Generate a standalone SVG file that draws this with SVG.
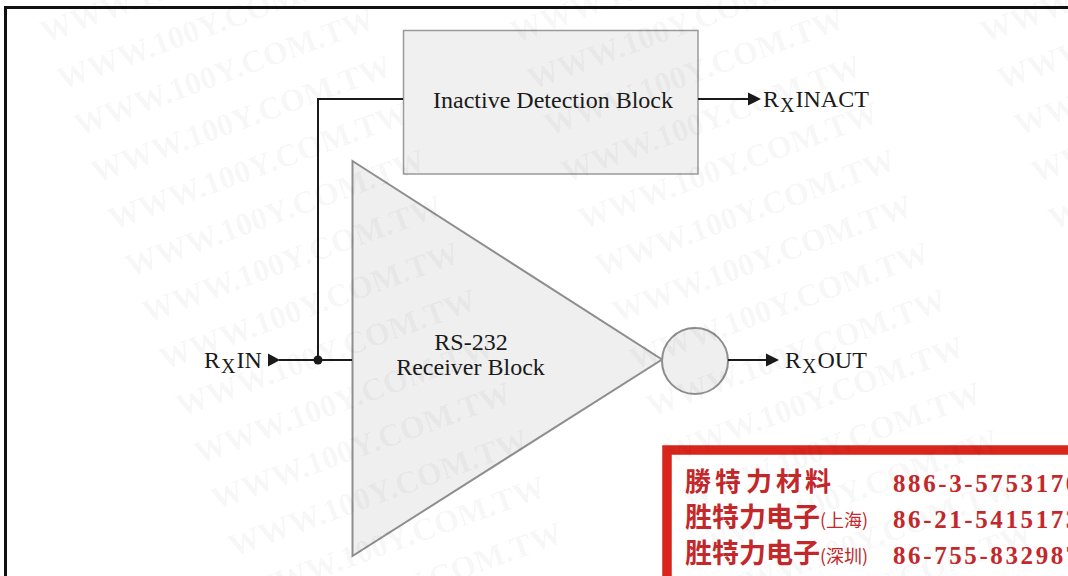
<svg xmlns="http://www.w3.org/2000/svg" width="1068" height="576" viewBox="0 0 1068 576">
<style>
.lbl{font-family:"Liberation Serif","Times New Roman",serif;font-size:24px;fill:#1a1a1a}
.sub{font-size:20px}
.wire{stroke:#1a1a1a;stroke-width:2;fill:none}
.head{fill:#1a1a1a}
.blk{fill:#efefef;stroke:#8e8e8e;stroke-width:2}
.wm{font-family:"Liberation Serif","Times New Roman",serif;font-weight:bold;font-size:32px;fill:#000;fill-opacity:0.045}
.cn{font-family:"Noto Sans CJK TC","Noto Sans CJK SC",sans-serif;font-weight:bold;fill:#c3282b}
.num{font-family:"Liberation Serif","Times New Roman",serif;font-weight:bold;font-size:25px;letter-spacing:2.6px;fill:#c3282b}
</style>
<rect x="0" y="0" width="1068" height="576" fill="#fff"/>
<rect id="frame" x="5.5" y="7.5" width="1100" height="600" fill="none" stroke="#111" stroke-width="3"/>

<g id="inactive-block">
<rect x="403.5" y="30.5" width="294.5" height="143.5" fill="#f0f0f0" stroke="#9a9a9a" stroke-width="1.5"/>
<text class="lbl" x="553" y="108" text-anchor="middle">Inactive Detection Block</text>
</g>

<g id="receiver-block">
<polygon class="blk" points="352.5,161 662,359.5 352.5,556"/>
<text class="lbl" x="471" y="350" text-anchor="middle">RS-232</text>
<text class="lbl" x="470.5" y="375" text-anchor="middle">Receiver Block</text>
</g>

<g id="output-buffer">
<circle class="blk" cx="695" cy="361" r="33"/>
</g>

<g id="connectors">
<path class="wire" d="M318,360 V99 H403"/>
<path class="wire" d="M279,360 H352"/>
<polygon class="head" points="268,353.5 280,360 268,366.5"/>
<circle class="head" cx="318" cy="360" r="4.5"/>
<path class="wire" d="M698,99 H750"/>
<polygon class="head" points="748,92.5 761,99 748,105.5"/>
<path class="wire" d="M728,360 H768"/>
<polygon class="head" points="766,353.5 779,360 766,366.5"/>
</g>

<g id="rxin-label"><text class="lbl" x="204" y="368">R<tspan class="sub" dy="5" dx="1">X</tspan><tspan dy="-5" dx="1">IN</tspan></text></g>
<g id="rxinact-label"><text class="lbl" x="763" y="107">R<tspan class="sub" dy="5" dx="1">X</tspan><tspan dy="-5" dx="1">INACT</tspan></text></g>
<g id="rxout-label"><text class="lbl" x="785" y="368">R<tspan class="sub" dy="5" dx="1">X</tspan><tspan dy="-5" dx="1">OUT</tspan></text></g>

<g id="stamp">
<rect x="667" y="450" width="500" height="200" fill="#fff" stroke="#d8261d" stroke-width="9.5"/>
<text class="cn" y="491" font-size="26"><tspan x="685">勝</tspan><tspan x="715">特</tspan><tspan x="746">力</tspan><tspan x="776">材</tspan><tspan x="805">料</tspan></text>
<text class="num" x="893" y="492">886-3-5753170</text>
<text class="cn" x="685" y="527" font-size="27">胜特力电子<tspan font-size="18" font-weight="normal">(上海)</tspan></text>
<text class="num" x="893" y="528">86-21-5415173</text>
<text class="cn" x="685" y="563" font-size="27">胜特力电子<tspan font-size="18" font-weight="normal">(深圳)</tspan></text>
<text class="num" x="893" y="564">86-755-832987</text>
</g>

<g id="watermark">
<text class="wm" transform="translate(28,-4) rotate(-20)">WWW.100Y.COM.TW</text>
<text class="wm" transform="translate(45,43) rotate(-20)">WWW.100Y.COM.TW</text>
<text class="wm" transform="translate(62,90) rotate(-20)">WWW.100Y.COM.TW</text>
<text class="wm" transform="translate(79,136) rotate(-20)">WWW.100Y.COM.TW</text>
<text class="wm" transform="translate(96,183) rotate(-20)">WWW.100Y.COM.TW</text>
<text class="wm" transform="translate(113,230) rotate(-20)">WWW.100Y.COM.TW</text>
<text class="wm" transform="translate(130,277) rotate(-20)">WWW.100Y.COM.TW</text>
<text class="wm" transform="translate(147,323) rotate(-20)">WWW.100Y.COM.TW</text>
<text class="wm" transform="translate(164,370) rotate(-20)">WWW.100Y.COM.TW</text>
<text class="wm" transform="translate(181,417) rotate(-20)">WWW.100Y.COM.TW</text>
<text class="wm" transform="translate(199,464) rotate(-20)">WWW.100Y.COM.TW</text>
<text class="wm" transform="translate(216,510) rotate(-20)">WWW.100Y.COM.TW</text>
<text class="wm" transform="translate(233,557) rotate(-20)">WWW.100Y.COM.TW</text>
<text class="wm" transform="translate(250,604) rotate(-20)">WWW.100Y.COM.TW</text>
<text class="wm" transform="translate(267,650) rotate(-20)">WWW.100Y.COM.TW</text>
<text class="wm" transform="translate(498,-4) rotate(-20)">WWW.100Y.COM.TW</text>
<text class="wm" transform="translate(515,43) rotate(-20)">WWW.100Y.COM.TW</text>
<text class="wm" transform="translate(532,90) rotate(-20)">WWW.100Y.COM.TW</text>
<text class="wm" transform="translate(549,136) rotate(-20)">WWW.100Y.COM.TW</text>
<text class="wm" transform="translate(566,183) rotate(-20)">WWW.100Y.COM.TW</text>
<text class="wm" transform="translate(583,230) rotate(-20)">WWW.100Y.COM.TW</text>
<text class="wm" transform="translate(600,277) rotate(-20)">WWW.100Y.COM.TW</text>
<text class="wm" transform="translate(617,323) rotate(-20)">WWW.100Y.COM.TW</text>
<text class="wm" transform="translate(634,370) rotate(-20)">WWW.100Y.COM.TW</text>
<text class="wm" transform="translate(651,417) rotate(-20)">WWW.100Y.COM.TW</text>
<text class="wm" transform="translate(669,464) rotate(-20)">WWW.100Y.COM.TW</text>
<text class="wm" transform="translate(686,510) rotate(-20)">WWW.100Y.COM.TW</text>
<text class="wm" transform="translate(703,557) rotate(-20)">WWW.100Y.COM.TW</text>
<text class="wm" transform="translate(720,604) rotate(-20)">WWW.100Y.COM.TW</text>
<text class="wm" transform="translate(737,650) rotate(-20)">WWW.100Y.COM.TW</text>
<text class="wm" transform="translate(968,-4) rotate(-20)">WWW.100Y.COM.TW</text>
<text class="wm" transform="translate(985,43) rotate(-20)">WWW.100Y.COM.TW</text>
<text class="wm" transform="translate(1002,90) rotate(-20)">WWW.100Y.COM.TW</text>
<text class="wm" transform="translate(1019,136) rotate(-20)">WWW.100Y.COM.TW</text>
<text class="wm" transform="translate(1036,183) rotate(-20)">WWW.100Y.COM.TW</text>
<text class="wm" transform="translate(1053,230) rotate(-20)">WWW.100Y.COM.TW</text>
</g>
</svg>
